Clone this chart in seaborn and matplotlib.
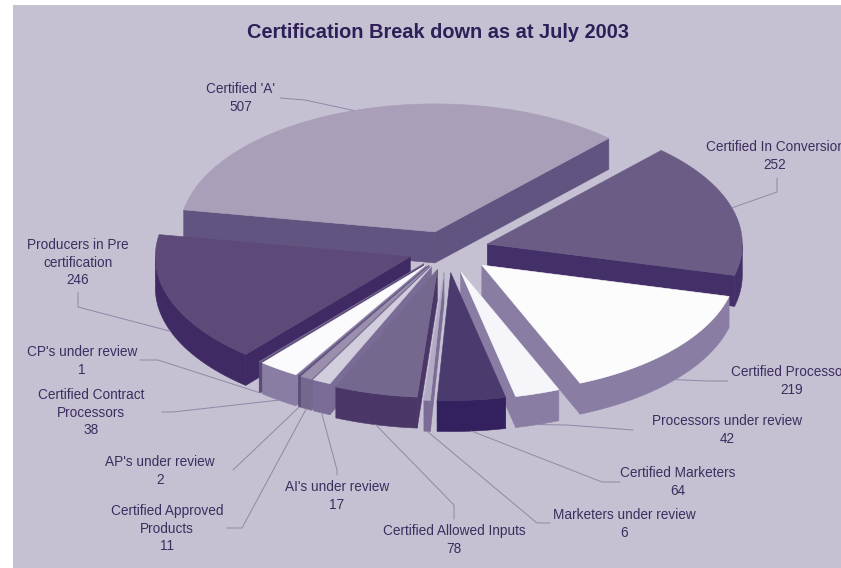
import numpy as np
import pandas as pd
import seaborn as sns
import matplotlib
matplotlib.use("Agg")
import matplotlib.pyplot as plt

# Certification counts, counter-clockwise from the first slice
categories = ["Certified 'A'", "Producers in Pre\ncertification", "CP's under review",
              "Certified Contract\nProcessors", "AP's under review",
              "Certified Approved\nProducts", "AI's under review",
              "Certified Allowed Inputs", "Marketers under review", "Certified Marketers",
              "Processors under review", "Certified Processors", "Certified In Conversion"]
counts = [507, 246, 1, 38, 2, 11, 17, 78, 6, 64, 42, 219, 252]

top_colours = ["#A99FB9", "#5D4A78", "#7A6C96", "#FBFBFD", "#625480", "#9A90AE", "#D2CEDD",
               "#75688F", "#B3ABC4", "#4A3A6E", "#F6F6FA", "#FCFCFD", "#6A5C85"]
side_colours = ["#625480", "#3F2A63", "#5A4A78", "#8A7DA3", "#5A4A78", "#75688F", "#7A6C96",
                "#4A3768", "#7A6C96", "#33205E", "#8A7DA3", "#8A7DA3", "#443068"]
explode = [38, 39, 36, 36, 36, 36, 36, 40, 45, 45, 45, 46, 42]

# Label centre, first text line centre and leader elbows, in figure pixels
label_xy = [(241, 89), (78, 245), (82, 352), (91, 395), (160, 462), (167, 511), (337, 487),
            (454, 531), (624, 515), (678, 473), (727, 421), (792, 372), (775, 147)]
leader_elbows = [
    [(280, 98), (305, 100)], [(78, 292), (78, 307)], [(140, 360), (158, 360)],
    [(162, 412), (173, 412)], [(233, 470)], [(227, 528), (242, 528)], [(337, 475), (337, 470)],
    [(454, 519), (454, 505)], [(550, 523), (537, 523)], [(620, 482), (602, 482)],
    [(633, 430), (567, 425)], [(728, 381), (707, 381)], [(777, 178), (777, 192)],
]

START_ANGLE = 47.0
CENTRE = (447.0, 250.0)
RX, RY, DEPTH = 255.0, 128.0, 31.0
BACKGROUND = "#C5C0D2"
INK = "#3D2E5F"
LEADER = "#9088A8"

sns.set_theme(style="white", rc={"font.family": ["Liberation Sans", "DejaVu Sans"]})

frame = pd.DataFrame({"category": categories, "count": counts, "top": top_colours,
                      "side": side_colours, "explode": explode})
sweep = frame["count"] / frame["count"].sum() * 360.0
frame["start"] = START_ANGLE + sweep.cumsum().shift(fill_value=0.0)
frame["end"] = frame["start"] + sweep
frame["mid"] = (frame["start"] + frame["end"]) / 2.0

fig = plt.figure(figsize=(8.41, 5.68), dpi=100, facecolor="white")
ax = fig.add_axes([13 / 841, 0, 828 / 841, 563 / 568], facecolor=BACKGROUND)
ax.set_xlim(13, 841)
ax.set_ylim(568, 5)
ax.axis("off")
ax.add_patch(plt.Rectangle((13, 5), 828, 563, color=BACKGROUND, zorder=0))


def ellipse_point(apex, degrees):
    rad = np.radians(degrees)
    return apex[0] + RX * np.cos(rad), apex[1] - RY * np.sin(rad)


def slice_apex(row):
    rad = np.radians(row["mid"])
    return (CENTRE[0] + row["explode"] * np.cos(rad),
            CENTRE[1] - row["explode"] * RY / RX * np.sin(rad))


def paint(xs, ys, colour):
    ax.fill(xs, ys, facecolor=colour, edgecolor=colour, linewidth=0.4, zorder=2)


# Back slices are painted first so nearer ones cover them
for _, row in frame.assign(depth=np.sin(np.radians(frame["mid"]))).sort_values("depth", ascending=False).iterrows():
    apex = slice_apex(row)
    arc = np.linspace(row["start"], row["end"], max(int(sweep.max()), 60))

    # Cut faces that turn towards the viewer
    for angle, normal in ((row["start"], row["start"] - 90), (row["end"], row["end"] + 90)):
        if np.sin(np.radians(normal)) < 0:
            x, y = ellipse_point(apex, angle)
            paint([apex[0], x, x, apex[0]], [apex[1], y, y + DEPTH, apex[1] + DEPTH], row["side"])

    # Outer rim on the near half of the ellipse
    front = arc[np.sin(np.radians(arc)) <= 0]
    if front.size > 1:
        x, y = ellipse_point(apex, front)
        paint(np.r_[x, x[::-1]], np.r_[y, (y + DEPTH)[::-1]], row["side"])

    # Top surface
    x, y = ellipse_point(apex, arc)
    paint(np.r_[apex[0], x], np.r_[apex[1], y], row["top"])

# Labels with their leader lines
for (_, row), (tx, ty), elbows in zip(frame.iterrows(), label_xy, leader_elbows):
    apex = slice_apex(row)
    ax_, ay_ = ellipse_point(apex, row["mid"])
    if np.sin(np.radians(row["mid"])) < 0:
        ay_ += DEPTH
    xs = [p[0] for p in elbows] + [ax_]
    ys = [p[1] for p in elbows] + [ay_]
    ax.plot(xs, ys, color=LEADER, linewidth=0.7, zorder=3)
    ax.text(tx, ty - 7, f"{row['category']}\n{row['count']}", ha="center", va="top",
            fontsize=9.8, color=INK, linespacing=1.33, clip_on=True, zorder=4)

ax.text(438, 32, "Certification Break down as at July 2003", ha="center", va="center",
        fontsize=14.4, fontweight="bold", color="#2F1F58", zorder=4)

fig.savefig("out.png", dpi=100, facecolor="white")
